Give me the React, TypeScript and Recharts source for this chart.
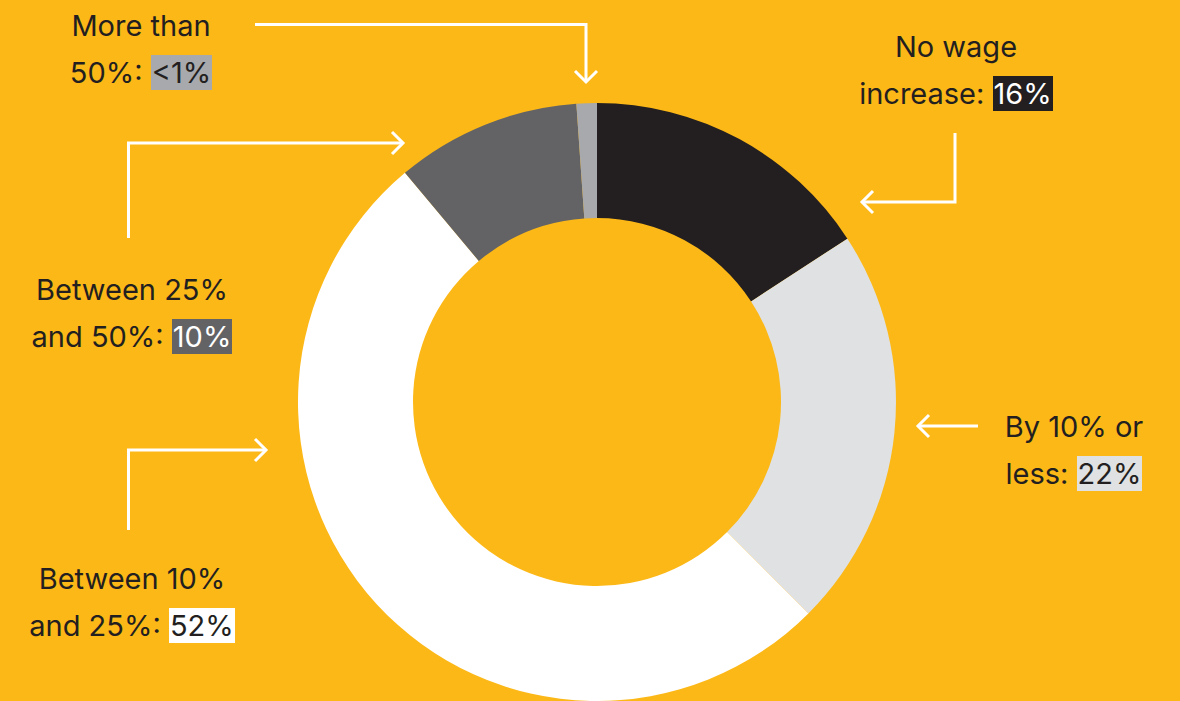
import React from "react";
import { PieChart, Pie, Cell } from "recharts";

const categories = ["No wage increase", "By 10% or less", "Between 10% and 25%", "Between 25% and 50%", "More than 50%"];
const shares = [15.8, 21.7, 51.4, 10.0, 1.1];
const shareLabels = ["16%", "22%", "52%", "10%", "<1%"];
const labelLine1 = ["No wage", "By 10% or", "Between 10%", "Between 25%", "More than"];
const labelLine2 = ["increase:", "less:", "and 25%:", "and 50%:", "50%:"];

const sliceColors = ["#231f20", "#e0e1e2", "#ffffff", "#636365", "#a7a9ac"];
const badgeText = ["#ffffff", "#231f20", "#231f20", "#ffffff", "#231f20"];
// label box: center x, top y
const labelPos = [
  { cx: 956, top: 23 },
  { cx: 1074, top: 403 },
  { cx: 132, top: 555 },
  { cx: 132, top: 266 },
  { cx: 141, top: 2 },
];

const BG = "#fcb817";
const W = 1180;
const H = 701;

const data = categories.map((name, i) => ({ name, value: shares[i] }));

function Arrow({ d, head }: { d: string; head: string }) {
  return (
    <g fill="none" stroke="#ffffff" strokeWidth={3}>
      <path d={d} />
      <path d={head} />
    </g>
  );
}

export default function App() {
  return (
    <div style={{ position: "absolute", left: 0, top: 0, width: W, height: H, background: BG, overflow: "hidden", fontFamily: "Inter, 'Noto Sans', sans-serif" }}>
      <PieChart width={W} height={H} margin={{ top: 0, right: 0, bottom: 0, left: 0 }}>
        <Pie
          data={data}
          dataKey="value"
          nameKey="name"
          cx={597}
          cy={402}
          innerRadius={184}
          outerRadius={299}
          startAngle={90}
          endAngle={-270}
          stroke="none"
          isAnimationActive={false}
        >
          {data.map((d, i) => (
            <Cell key={d.name} fill={sliceColors[i]} />
          ))}
        </Pie>
      </PieChart>
      <svg width={W} height={H} style={{ position: "absolute", left: 0, top: 0, pointerEvents: "none" }}>
        {/* More than 50% */}
        <Arrow d="M255 24.5 H586 V82" head="M575 71 L586 82 L597 71" />
        {/* No wage increase */}
        <Arrow d="M955 133 V202 H862" head="M873 191 L862 202 L873 213" />
        {/* By 10% or less */}
        <Arrow d="M978 426 H918" head="M929 415 L918 426 L929 437" />
        {/* Between 25% and 50% */}
        <Arrow d="M128.5 238 V143 H403" head="M392 132 L403 143 L392 154" />
        {/* Between 10% and 25% */}
        <Arrow d="M128.5 530 V450 H266" head="M255 439 L266 450 L255 461" />
      </svg>
      {categories.map((c, i) => (
        <div
          key={c}
          style={{
            position: "absolute",
            left: labelPos[i].cx - 150,
            top: labelPos[i].top,
            width: 300,
            textAlign: "center",
            fontSize: 29,
            lineHeight: "47px",
            color: "#231f20",
            whiteSpace: "nowrap",
          }}
        >
          <div>{labelLine1[i]}</div>
          <div>
            {labelLine2[i]}{" "}
            <span style={{ background: sliceColors[i], color: badgeText[i], padding: "0 1px" }}>{shareLabels[i]}</span>
          </div>
        </div>
      ))}
    </div>
  );
}
